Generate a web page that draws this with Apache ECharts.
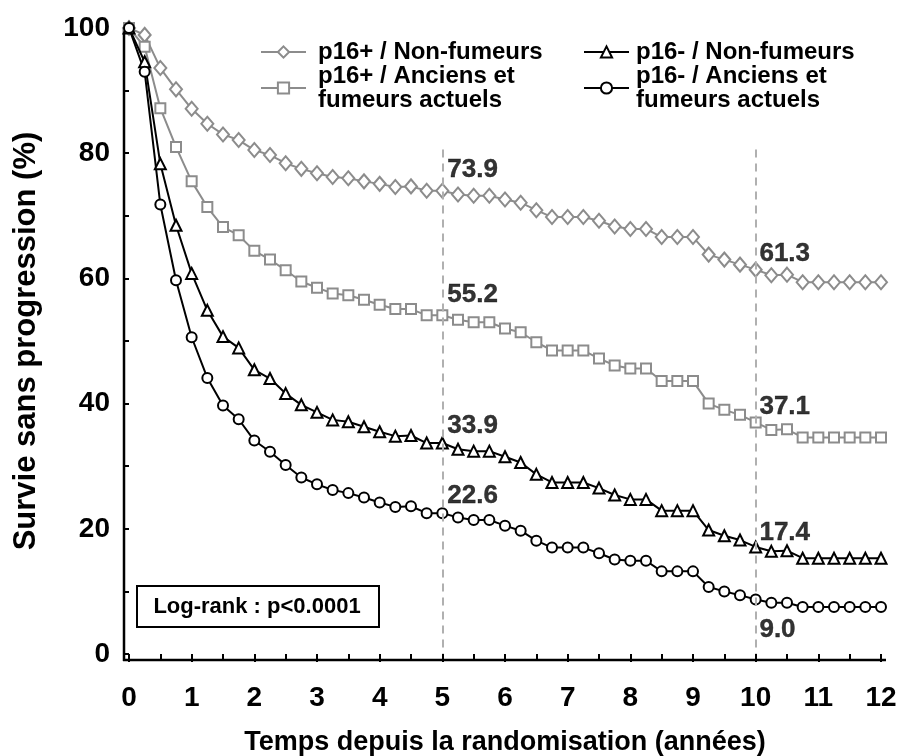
<!DOCTYPE html>
<html>
<head>
<meta charset="utf-8">
<script src="https://cdn.jsdelivr.net/npm/echarts@6/dist/echarts.min.js"></script>
<style>html,body{margin:0;padding:0;background:#fff}#c{width:898px;height:756px}</style>
</head>
<body>
<div id="c"></div>
<script>
const times = [0,0.25,0.5,0.75,1,1.25,1.5,1.75,2,2.25,2.5,2.75,3,3.25,3.5,3.75,4,4.25,4.5,4.75,5,5.25,5.5,5.75,6,6.25,6.5,6.75,7,7.25,7.5,7.75,8,8.25,8.5,8.75,9,9.25,9.5,9.75,10,10.25,10.5,10.75,11,11.25,11.5,11.75,12];
const p16posNon = [100,98.9,93.6,90.2,87.1,84.7,83.0,82.1,80.5,79.7,78.4,77.5,76.8,76.2,76.0,75.5,75.1,74.6,74.7,74.0,74.0,73.4,73.2,73.2,72.6,72.1,70.9,69.8,69.8,69.8,69.2,68.3,67.9,67.9,66.6,66.6,66.6,63.8,63.0,62.2,61.4,60.5,60.6,59.4,59.4,59.4,59.4,59.4,59.4];
const p16posSmk = [100,97.0,87.2,81.0,75.5,71.4,68.2,66.9,64.4,63.0,61.3,59.5,58.5,57.6,57.3,56.6,55.8,55.1,55.1,54.1,54.1,53.4,53.0,53.0,52.0,51.4,49.8,48.5,48.5,48.5,47.2,46.1,45.6,45.6,43.6,43.6,43.6,40.0,39.0,38.2,37.0,35.8,35.9,34.6,34.6,34.6,34.6,34.6,34.6];
const p16negNon = [100,94.6,78.3,68.5,60.8,54.9,50.7,48.9,45.4,44.0,41.6,39.8,38.6,37.4,37.1,36.3,35.5,34.8,34.9,33.7,33.7,32.7,32.4,32.4,31.5,30.6,28.7,27.4,27.4,27.4,26.5,25.4,24.7,24.7,22.9,22.9,22.9,19.8,18.9,18.2,17.1,16.4,16.5,15.3,15.3,15.3,15.3,15.3,15.3];
const p16negSmk = [100,93.0,71.8,59.7,50.6,44.1,39.7,37.5,34.1,32.3,30.2,28.2,27.1,26.2,25.7,25.0,24.2,23.5,23.6,22.5,22.5,21.8,21.4,21.4,20.5,19.7,18.1,17.0,17.0,17.0,16.1,15.1,14.9,14.9,13.2,13.2,13.2,10.7,10.0,9.4,8.7,8.2,8.2,7.5,7.5,7.5,7.5,7.5,7.5];
const seriesNames = ['p16+ / Non-fumeurs','p16+ / Anciens et\nfumeurs actuels','p16- / Non-fumeurs','p16- / Anciens et\nfumeurs actuels'];
const annotX = [5.08,5.08,5.08,5.08,10.06,10.06,10.06,10.06];
const annotY = [77.4,57.4,36.5,25.3,63.9,39.5,19.4,3.8];
const annotText = ['73.9','55.2','33.9','22.6','61.3','37.1','17.4','9.0'];
const refLinesX = [5,10];
const refLineTop = 80.6;
const xTicks = [0,1,2,3,4,5,6,7,8,9,10,11,12];
const yTicks = [0,20,40,60,80,100];
const pText = 'Log-rank : p<0.0001';
const xTitle = 'Temps depuis la randomisation (années)';
const yTitle = 'Survie sans progression (%)';

const FONT = '"Liberation Sans", Arial, sans-serif';
const GRAY = '#8c8c8c';
const chart = echarts.init(document.getElementById('c'), null, {renderer:'canvas'});

function mk(name, vals, symbol, size, color, z){
  return {
    name, type:'line', data: times.map((t,i)=>[t, vals[i]]),
    symbol, symbolSize:size, showAllSymbol:true, z,
    lineStyle:{color, width:2},
    itemStyle:{color:'#fff', borderColor:color, borderWidth:2},
    emphasis:{disabled:true}, animation:false
  };
}
const s1 = mk(seriesNames[0], p16posNon, 'diamond', [12,14], GRAY, 3);
const s2 = mk(seriesNames[1], p16posSmk, 'rect', 10, GRAY, 3);
const s3 = mk(seriesNames[2], p16negNon, 'triangle', 11, '#000', 4);
const s4 = mk(seriesNames[3], p16negSmk, 'circle', 10, '#000', 4);
s1.markLine = {
  silent:true, symbol:'none', animation:false,
  lineStyle:{color:'#b0b0b0', width:2, type:[8,6]},
  label:{show:false},
  data: refLinesX.map(x=>[{coord:[x,refLineTop]},{coord:[x,0]}])
};
const ann = {
  type:'scatter', name:'ann', data: annotX.map((x,i)=>[x, annotY[i], annotText[i]]),
  symbolSize:0, silent:true, animation:false, z:10,
  label:{show:true, position:'right', distance:0, formatter:p=>p.value[2],
    fontFamily:FONT, fontWeight:'bold', fontSize:26, color:'#000', align:'left', verticalAlign:'middle',
    textBorderColor:'#000', textBorderWidth:0.4}
};

const legendCommon = {
  orient:'vertical', itemWidth:45, itemHeight:14, itemGap:0,
  textStyle:{fontFamily:FONT, fontWeight:'bold', fontSize:24, color:'#000', lineHeight:24},
  selectedMode:false
};

chart.setOption({
  animation:false,
  backgroundColor:'#fff',
  grid:{left:129, right:17, top:28, bottom:102, containLabel:false, outerBoundsMode:'none'},
  xAxis:{type:'value', min:0, max:12, interval:1,
    axisLine:{show:false},
    axisTick:{show:true, length:8, lineStyle:{color:'#000', width:2}},
    minorTick:{show:true, splitNumber:2, length:6, lineStyle:{color:'#000', width:2}},
    splitLine:{show:false}, offset:6,
    axisLabel:{fontFamily:FONT, fontWeight:'bold', fontSize:28, color:'#000', margin:24, formatter:v=>xTicks.includes(v)?String(v):''},
    name:xTitle, nameLocation:'middle', nameGap:69,
    nameTextStyle:{fontFamily:FONT, fontWeight:'bold', fontSize:27, color:'#000'}
  },
  yAxis:{type:'value', min:0, max:100, interval:20,
    axisLine:{show:false},
    axisTick:{show:true, length:6, lineStyle:{color:'#000', width:2}},
    minorTick:{show:true, splitNumber:2, length:5, lineStyle:{color:'#000', width:2}},
    splitLine:{show:false}, offset:5,
    axisLabel:{fontFamily:FONT, fontWeight:'bold', fontSize:28, color:'#000', margin:14, formatter:v=>yTicks.includes(v)?String(v):''},
    name:yTitle, nameLocation:'middle', nameGap:82,
    nameTextStyle:{fontFamily:FONT, fontWeight:'bold', fontSize:31, color:'#000'}
  },
  legend:[
    Object.assign({}, legendCommon, {left:255, top:35, data:[seriesNames[0], seriesNames[1]],
      textStyle:Object.assign({}, legendCommon.textStyle, {padding:[0,0,0,7]})}),
    Object.assign({}, legendCommon, {left:578, top:35, data:[seriesNames[2], seriesNames[3]],
      textStyle:Object.assign({}, legendCommon.textStyle, {padding:[0,0,0,2]})})
  ],
  series:[s1,s2,s3,s4,ann]
});

// axis lines & log-rank box
const o = chart.convertToPixel({gridIndex:0},[0,0]);
const e = chart.convertToPixel({gridIndex:0},[12,100]);
const axX = o[0]-5, axY = o[1]+6;
chart.setOption({
  graphic:[
    {type:'line', shape:{x1:axX, y1:e[1]-1, x2:axX, y2:axY+1}, style:{stroke:'#000', lineWidth:2.5}, silent:true},
    {type:'line', shape:{x1:axX-1, y1:axY, x2:e[0]+5, y2:axY}, style:{stroke:'#000', lineWidth:2.5}, silent:true},
    {type:'rect', shape:{x:137, y:586, width:242, height:41}, style:{fill:'#fff', stroke:'#000', lineWidth:2}, silent:true, z:20},
    {type:'text', x:257, y:606.5, style:{text:pText, fontFamily:FONT, fontWeight:'bold', fontSize:22, fill:'#000', align:'center', verticalAlign:'middle'}, silent:true, z:21}
  ]
});
</script>
</body>
</html>
